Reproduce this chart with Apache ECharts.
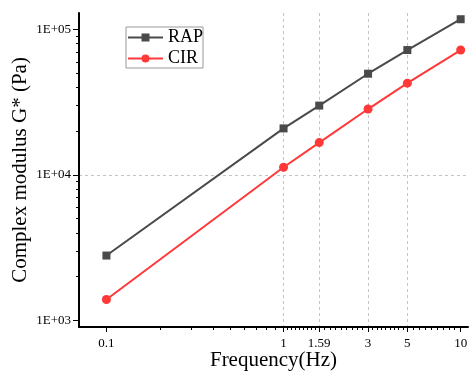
<!DOCTYPE html>
<html>
<head>
<meta charset="utf-8">
<script src="https://cdn.jsdelivr.net/npm/echarts@6/dist/echarts.min.js"></script>
<style>html,body{margin:0;padding:0;background:#fff}#c{width:469px;height:371px}</style>
</head>
<body>
<div id="c"></div>
<script>
const frequencies = [0.1, 1, 1.59, 3, 5, 10];
const rapValues = [2790, 20900, 30000, 49700, 72300, 117800];
const cirValues = [1390, 11300, 16700, 28400, 42800, 72300];
const xTickValues = [0.1, 1, 1.59, 3, 5, 10];
const xMinorTickValues = [0.2, 0.3, 0.4, 0.5, 0.6, 0.7, 0.8, 0.9,
  1.053, 1.109, 1.167, 1.229, 1.294, 1.362, 1.434, 1.510,
  1.706, 1.831, 1.965, 2.109, 2.263, 2.428, 2.606, 2.796,
  3.175, 3.361, 3.557, 3.765, 3.985, 4.217, 4.464, 4.724,
  5.400, 5.833, 6.300, 6.804, 7.349, 7.937, 8.573, 9.259];
const yTickValues = [1000, 10000, 100000];
const yMinorTickValues = [2000, 3000, 4000, 5000, 6000, 7000, 8000, 9000,
  20000, 30000, 40000, 50000, 60000, 70000, 80000, 90000];

const font = '"Liberation Serif", "Times New Roman", serif';
const xRange = { min: 0.07, max: 11 };
const yRange = { min: 900, max: 130000 };
const gridLine = { color: '#c4c4c4', type: [3, 3], width: 1 };

const chart = echarts.init(document.getElementById('c'));
chart.setOption({
  animation: false,
  backgroundColor: '#fff',
  grid: { left: 79, top: 13, right: 1, bottom: 44, containLabel: false, outerBoundsMode: 'none' },
  legend: {
    left: 126, top: 27, orient: 'vertical',
    padding: [1, 0, 0, 1], itemGap: 2,
    itemWidth: 35, itemHeight: 10,
    borderColor: '#999', borderWidth: 1,
    textStyle: { fontFamily: font, fontSize: 18, lineHeight: 19, color: '#000' },
    data: ['RAP', 'CIR']
  },
  xAxis: [{
    type: 'log', ...xRange, position: 'bottom',
    name: 'Frequency(Hz)', nameLocation: 'middle', nameGap: 23, nameMoveOverlap: false,
    nameTextStyle: { fontFamily: font, fontSize: 21, color: '#000' },
    axisLine: { lineStyle: { color: '#000', width: 2 } },
    axisTick: { show: true, length: 5, customValues: xTickValues, lineStyle: { color: '#000', width: 1 } },
    axisLabel: { customValues: xTickValues, fontFamily: font, fontSize: 13, color: '#000', margin: 10,
      formatter: v => String(v) },
    splitLine: { show: true, showMinLine: false, showMaxLine: false, lineStyle: gridLine }
  }, {
    type: 'log', ...xRange, position: 'bottom', offset: 0,
    axisLine: { show: false },
    axisTick: { show: true, length: 3, customValues: xMinorTickValues, lineStyle: { color: '#000', width: 1 } },
    axisLabel: { show: false },
    splitLine: { show: false }
  }],
  yAxis: [{
    type: 'log', ...yRange, position: 'left',
    name: 'Complex modulus G* (Pa)', nameLocation: 'middle', nameGap: 48, nameMoveOverlap: false,
    nameTextStyle: { fontFamily: font, fontSize: 21, color: '#000' },
    axisLine: { show: true, lineStyle: { color: '#000', width: 2 } },
    axisTick: { show: true, length: 6, customValues: yTickValues, lineStyle: { color: '#000', width: 1 } },
    axisLabel: { customValues: yTickValues, fontFamily: font, fontSize: 13, color: '#000', margin: 8,
      formatter: v => '1E+0' + Math.round(Math.log10(v)) },
    splitLine: { show: true, showMinLine: false, showMaxLine: false, lineStyle: gridLine }
  }, {
    type: 'log', ...yRange, position: 'left', offset: 0,
    axisLine: { show: false },
    axisTick: { show: true, length: 3, customValues: yMinorTickValues, lineStyle: { color: '#000', width: 1 } },
    axisLabel: { show: false },
    splitLine: { show: false }
  }],
  series: [
    {
      name: 'RAP', type: 'line',
      data: frequencies.map((f, i) => [f, rapValues[i]]),
      symbol: 'rect', symbolSize: 8,
      itemStyle: { color: '#4a4a4a' },
      lineStyle: { color: '#4a4a4a', width: 2 }
    },
    {
      name: 'CIR', type: 'line',
      data: frequencies.map((f, i) => [f, cirValues[i]]),
      symbol: 'circle', symbolSize: 9,
      itemStyle: { color: '#ff3838' },
      lineStyle: { color: '#ff3838', width: 2 }
    }
  ]
});
</script>
</body>
</html>
